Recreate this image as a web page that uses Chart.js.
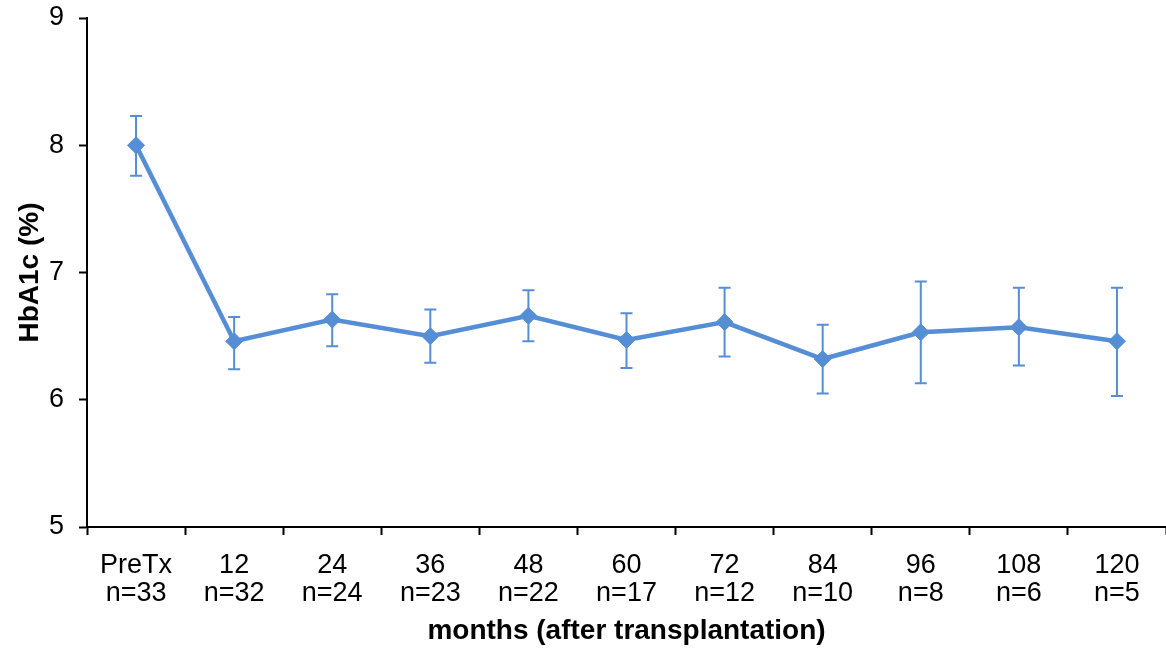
<!DOCTYPE html>
<html>
<head>
<meta charset="utf-8">
<script src="https://cdn.jsdelivr.net/npm/chart.js@4/dist/chart.umd.min.js"></script>
<style>
  body { margin: 0; background: #fff; }
</style>
</head>
<body>
<canvas id="hba1c-chart" width="1166" height="648"></canvas>
<script>
const categories = ["PreTx", "12", "24", "36", "48", "60", "72", "84", "96", "108", "120"];
const counts = [33, 32, 24, 23, 22, 17, 12, 10, 8, 6, 5];
const hba1c = [8.00, 6.46, 6.63, 6.50, 6.66, 6.47, 6.61, 6.32, 6.53, 6.57, 6.46];
const upper = [8.23, 6.65, 6.83, 6.71, 6.86, 6.68, 6.88, 6.59, 6.93, 6.88, 6.88];
const lower = [7.76, 6.24, 6.42, 6.29, 6.46, 6.25, 6.34, 6.05, 6.13, 6.27, 6.03];

const blue = "#558ed5";
const font = "'Liberation Sans', Arial, sans-serif";

// error bars drawn from the upper/lower arrays through the y scale
const errorBars = {
  id: "errorBars",
  beforeDatasetsDraw(chart) {
    const ctx = chart.ctx;
    const y = chart.scales.y;
    const meta = chart.getDatasetMeta(0);
    ctx.save();
    ctx.strokeStyle = blue;
    ctx.lineWidth = 2;
    meta.data.forEach(function (pt, i) {
      const top = y.getPixelForValue(upper[i]);
      const bot = y.getPixelForValue(lower[i]);
      ctx.beginPath();
      ctx.moveTo(pt.x, top);
      ctx.lineTo(pt.x, bot);
      ctx.moveTo(pt.x - 6, top);
      ctx.lineTo(pt.x + 6, top);
      ctx.moveTo(pt.x - 6, bot);
      ctx.lineTo(pt.x + 6, bot);
      ctx.stroke();
    });
    ctx.restore();
  }
};

new Chart(document.getElementById("hba1c-chart"), {
  type: "line",
  data: {
    labels: categories.map((c, i) => [c, "n=" + counts[i]]),
    datasets: [{
      data: hba1c,
      borderColor: blue,
      backgroundColor: blue,
      borderWidth: 4.5,
      pointStyle: "rectRot",
      pointRadius: 8.5,
      pointBorderWidth: 1,
      tension: 0
    }]
  },
  options: {
    responsive: false,
    animation: false,
    devicePixelRatio: 1,
    layout: { autoPadding: false, padding: { top: 18, right: 0, left: 0, bottom: 0 } },
    plugins: { legend: { display: false }, tooltip: { enabled: false } },
    scales: {
      x: {
        offset: true,
        grid: { offset: true, drawOnChartArea: false, tickLength: 8, tickColor: "#000", tickWidth: 2 },
        border: { color: "#000", width: 2 },
        ticks: { color: "#000", padding: 17, maxRotation: 0, font: { family: font, size: 27, lineHeight: 1.02 } },
        title: {
          display: true,
          text: "months (after transplantation)",
          color: "#000",
          padding: { top: 0, bottom: 0 },
          font: { family: font, size: 28, weight: "bold", lineHeight: 1.2 }
        },
        afterFit(scale) { scale.height = 121; }
      },
      y: {
        min: 5,
        max: 9,
        grid: { drawOnChartArea: false, tickLength: 8, tickColor: "#000", tickWidth: 2 },
        border: { color: "#000", width: 2 },
        ticks: { stepSize: 1, color: "#000", padding: 15, font: { family: font, size: 27 } },
        title: {
          display: true,
          text: "HbA1c (%)",
          color: "#000",
          padding: { top: 13, bottom: 0 },
          font: { family: font, size: 28, weight: "bold", lineHeight: 1.2 }
        },
        afterFit(scale) {
          scale.width = 87;
          scale.paddingTop = 0;
          scale.paddingBottom = 0;
        }
      }
    }
  },
  plugins: [errorBars]
});
</script>
</body>
</html>
